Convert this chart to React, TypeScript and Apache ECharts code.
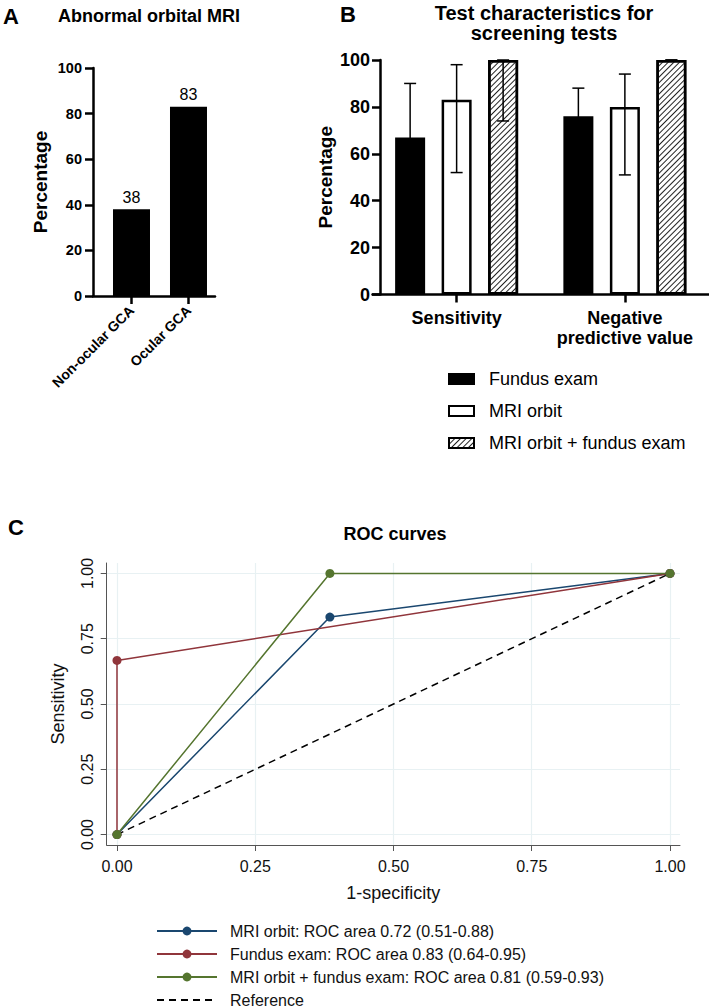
import React, { useEffect, useRef } from "react";
import * as echarts from "echarts";

const FONT = '"Liberation Sans", Arial, Helvetica, sans-serif';

// ---------- Panel A data ----------
const groupsA = ["Non-ocular GCA", "Ocular GCA"];
const abnormalA = [38, 83];

// ---------- Panel B data ----------
const metricsB = ["Sensitivity", "Negative\npredictive value"];
const testNames = ["Fundus exam", "MRI orbit", "MRI orbit + fundus exam"];
const fundusB = [67, 76];
const mriB = [83, 80];
const comboB = [100, 100];
const fundusCI = [
  [35, 90],
  [55, 88],
];
const mriCI = [
  [52, 98],
  [51, 94],
];
const comboCI = [
  [74, 100],
  [100, 100],
];

// ---------- Panel C data ----------
const rocNames = [
  "MRI orbit: ROC area 0.72 (0.51-0.88)",
  "Fundus exam: ROC area 0.83 (0.64-0.95)",
  "MRI orbit + fundus exam: ROC area 0.81 (0.59-0.93)",
  "Reference",
];
const mriRoc = [
  [0, 0],
  [0.385, 0.833],
  [1, 1],
];
const fundusRoc = [
  [0, 0],
  [0, 0.667],
  [1, 1],
];
const comboRoc = [
  [0, 0],
  [0.385, 1],
  [1, 1],
];
const refRoc = [
  [0, 0],
  [1, 1],
];
const rocTicks = [0, 0.25, 0.5, 0.75, 1];

const BAR_W = 30;
const BAR_GAP = 0.55;

export default function App() {
  const ref = useRef<HTMLDivElement>(null);

  useEffect(() => {
    if (!ref.current) return;
    const chart = echarts.init(ref.current, undefined, { renderer: "svg" });

    const ciData: number[][] = [];
    [fundusCI, mriCI, comboCI].forEach((ci, s) => {
      ci.forEach((pair, c) => ciData.push([c, pair[0], pair[1], s]));
    });

    const boldAxisLabel = (size: number) => ({
      fontFamily: FONT,
      fontWeight: "bold" as const,
      fontSize: size,
      color: "#000",
    });

    const option: any = {
      animation: false,
      backgroundColor: "#fff",
      textStyle: { fontFamily: FONT },
      graphic: [
        { type: "text", x: 3, y: 16, style: { text: "A", font: `bold 22px ${FONT}`, fill: "#000", verticalAlign: "middle" } },
        { type: "text", x: 149, y: 16, style: { text: "Abnormal orbital MRI", font: `bold 18px ${FONT}`, fill: "#000", align: "center", verticalAlign: "middle" } },
        { type: "text", x: 340, y: 14, style: { text: "B", font: `bold 22px ${FONT}`, fill: "#000", verticalAlign: "middle" } },
        { type: "text", x: 544, y: 3, style: { text: "Test characteristics for\nscreening tests", font: `bold 20px ${FONT}`, lineHeight: 20, fill: "#000", align: "center", verticalAlign: "top" } },
        { type: "text", x: 8, y: 527, style: { text: "C", font: `bold 22px ${FONT}`, fill: "#000", verticalAlign: "middle" } },
        { type: "text", x: 395, y: 534, style: { text: "ROC curves", font: `bold 18px ${FONT}`, fill: "#000", align: "center", verticalAlign: "middle" } },
      ],
      legend: [
        {
          data: testNames,
          orient: "vertical",
          left: 448,
          top: 369,
          padding: 0,
          icon: "rect",
          itemWidth: 25,
          itemHeight: 10,
          itemGap: 12,
          selectedMode: false,
          textStyle: { fontFamily: FONT, fontSize: 18, lineHeight: 20, color: "#000", padding: [0, 0, 0, 10] },
        },
        {
          data: [
            rocNames[0],
            rocNames[1],
            rocNames[2],
            { name: rocNames[3], itemStyle: { opacity: 0 } },
          ],
          orient: "vertical",
          left: 156,
          top: 923,
          height: 100,
          padding: 0,
          itemWidth: 60,
          itemHeight: 11,
          itemGap: 7,
          selectedMode: false,
          textStyle: { fontFamily: FONT, fontSize: 16, lineHeight: 16, color: "#111", padding: [0, 0, 0, 8] },
        },
      ],
      grid: [
        { left: 93, top: 68, width: 122, height: 228 },
        { left: 372.5, top: 60, width: 342, height: 234.5 },
        { left: 106.7, top: 563, width: 573.3, height: 282 },
      ],
      xAxis: [
        {
          gridIndex: 0,
          type: "value",
          min: -0.6754,
          max: 1.465,
          splitLine: { show: false },
          axisLine: { show: true, onZero: false, lineStyle: { color: "#000", width: 2.5 } },
          axisTick: { show: true, customValues: [0, 1], length: 8, lineStyle: { color: "#000", width: 2.5 } },
          axisLabel: {
            customValues: [0, 1],
            formatter: (v: number) => groupsA[Math.round(v)] ?? "",
            rotate: 45,
            margin: 12,
            ...boldAxisLabel(14),
          },
        },
        {
          gridIndex: 1,
          type: "category",
          data: metricsB,
          axisLine: { show: true, lineStyle: { color: "#000", width: 2.5 } },
          axisTick: { show: true, alignWithLabel: true, length: 8, lineStyle: { color: "#000", width: 2.5 } },
          axisLabel: { interval: 0, margin: 13, lineHeight: 20, ...boldAxisLabel(18) },
        },
        {
          gridIndex: 2,
          type: "value",
          min: -0.0186,
          max: 1.0181,
          axisLine: { show: true, onZero: false, lineStyle: { color: "#555", width: 1 } },
          axisTick: { show: true, customValues: rocTicks, length: 6, lineStyle: { color: "#555", width: 1 } },
          axisLabel: {
            customValues: rocTicks,
            formatter: (v: number) => v.toFixed(2),
            margin: 13,
            fontFamily: FONT,
            fontSize: 16,
            color: "#111",
          },
          splitLine: { show: true, lineStyle: { color: "#e8f1f3", width: 1.2 } },
          name: "1-specificity",
          nameLocation: "middle",
          nameGap: 39,
          nameTextStyle: { fontFamily: FONT, fontSize: 18, color: "#111" },
        },
      ],
      yAxis: [
        {
          gridIndex: 0,
          type: "value",
          min: 0,
          max: 100,
          interval: 20,
          splitLine: { show: false },
          axisLine: { show: true, onZero: false, lineStyle: { color: "#000", width: 2.5 } },
          axisTick: { show: true, length: 8, lineStyle: { color: "#000", width: 2.5 } },
          axisLabel: { margin: 11, ...boldAxisLabel(14.5) },
          name: "Percentage",
          nameLocation: "middle",
          nameGap: 43,
          nameTextStyle: { fontFamily: FONT, fontWeight: "bold", fontSize: 19, color: "#000" },
        },
        {
          gridIndex: 1,
          type: "value",
          min: 0,
          max: 100,
          interval: 20,
          offset: -7.5,
          splitLine: { show: false },
          axisLine: { show: true, onZero: false, lineStyle: { color: "#000", width: 2.5 } },
          axisTick: { show: true, length: 8, lineStyle: { color: "#000", width: 2.5 } },
          axisLabel: { margin: 10, ...boldAxisLabel(18) },
          name: "Percentage",
          nameLocation: "middle",
          nameGap: 45,
          nameTextStyle: { fontFamily: FONT, fontWeight: "bold", fontSize: 19, color: "#000" },
        },
        {
          gridIndex: 2,
          type: "value",
          min: -0.04,
          max: 1.04,
          axisLine: { show: true, onZero: false, lineStyle: { color: "#555", width: 1 } },
          axisTick: { show: true, customValues: rocTicks, length: 6, lineStyle: { color: "#555", width: 1 } },
          axisLabel: {
            customValues: rocTicks,
            formatter: (v: number) => v.toFixed(2),
            rotate: 90,
            margin: 11,
            fontFamily: FONT,
            fontSize: 16,
            color: "#111",
          },
          splitLine: { show: true, lineStyle: { color: "#e8f1f3", width: 1.2 } },
          name: "Sensitivity",
          nameLocation: "middle",
          nameGap: 40,
          nameTextStyle: { fontFamily: FONT, fontSize: 18, color: "#111" },
        },
      ],
      series: [
        // Panel A
        {
          name: "Abnormal orbital MRI",
          type: "bar",
          xAxisIndex: 0,
          yAxisIndex: 0,
          barWidth: 37,
          data: abnormalA.map((v, i) => [i, v]),
          itemStyle: { color: "#000" },
          label: {
            show: true,
            position: "top",
            distance: 4,
            formatter: (p: any) => String(p.value[1]),
            fontFamily: FONT,
            fontSize: 16,
            color: "#000",
          },
        },
        // Panel B
        {
          name: testNames[0],
          type: "bar",
          xAxisIndex: 1,
          yAxisIndex: 1,
          barWidth: BAR_W,
          barGap: `${BAR_GAP * 100}%`,
          data: fundusB,
          itemStyle: { color: "#000", borderColor: "#000", borderWidth: 2.5 },
        },
        {
          name: testNames[1],
          type: "bar",
          xAxisIndex: 1,
          yAxisIndex: 1,
          barWidth: BAR_W,
          barGap: `${BAR_GAP * 100}%`,
          data: mriB,
          itemStyle: { color: "#fff", borderColor: "#000", borderWidth: 2.5 },
        },
        {
          name: testNames[2],
          type: "bar",
          xAxisIndex: 1,
          yAxisIndex: 1,
          barWidth: BAR_W,
          barGap: `${BAR_GAP * 100}%`,
          data: comboB,
          itemStyle: {
            color: "#fff",
            borderColor: "#000",
            borderWidth: 2.5,
            decal: {
              symbol: "rect",
              symbolSize: 1,
              color: "#222",
              backgroundColor: "#fff",
              dashArrayX: [1, 0],
              dashArrayY: [1, 2.8],
              rotation: -Math.PI / 4,
            },
          },
        },
        {
          name: "CI",
          type: "custom",
          xAxisIndex: 1,
          yAxisIndex: 1,
          z: 5,
          encode: { x: 0, y: [1, 2] },
          data: ciData,
          renderItem: (params: any, api: any) => {
            const cat = api.value(0);
            const lo = api.value(1);
            const hi = api.value(2);
            const s = api.value(3);
            const off = (s - 1) * BAR_W * (1 + BAR_GAP);
            const pLo = api.coord([cat, lo]);
            const pHi = api.coord([cat, hi]);
            const x = pLo[0] + off;
            const cap = 6;
            const st = { stroke: "#000", lineWidth: 1.5 };
            return {
              type: "group",
              children: [
                { type: "line", shape: { x1: x, y1: pLo[1], x2: x, y2: pHi[1] }, style: st },
                { type: "line", shape: { x1: x - cap, y1: pLo[1], x2: x + cap, y2: pLo[1] }, style: st },
                { type: "line", shape: { x1: x - cap, y1: pHi[1], x2: x + cap, y2: pHi[1] }, style: st },
              ],
            };
          },
        },
        // Panel C
        {
          name: rocNames[0],
          type: "line",
          xAxisIndex: 2,
          yAxisIndex: 2,
          data: mriRoc,
          symbol: "circle",
          symbolSize: 9,
          lineStyle: { color: "#1a476f", width: 1.5 },
          itemStyle: { color: "#1a476f" },
        },
        {
          name: rocNames[1],
          type: "line",
          xAxisIndex: 2,
          yAxisIndex: 2,
          data: fundusRoc,
          symbol: "circle",
          symbolSize: 9,
          lineStyle: { color: "#90353b", width: 1.5 },
          itemStyle: { color: "#90353b" },
        },
        {
          name: rocNames[2],
          type: "line",
          xAxisIndex: 2,
          yAxisIndex: 2,
          data: comboRoc,
          symbol: "circle",
          symbolSize: 9,
          lineStyle: { color: "#55752f", width: 1.5 },
          itemStyle: { color: "#55752f" },
        },
        {
          name: rocNames[3],
          type: "line",
          xAxisIndex: 2,
          yAxisIndex: 2,
          data: refRoc,
          symbol: "none",
          lineStyle: { color: "#000", width: 1.5, type: [7, 5] },
          itemStyle: { color: "#000" },
        },
      ],
    };

    chart.setOption(option);
    return () => chart.dispose();
  }, []);

  return (
    <div
      ref={ref}
      style={{ position: "absolute", left: 0, top: 0, width: 709, height: 1008, background: "#fff" }}
    />
  );
}
